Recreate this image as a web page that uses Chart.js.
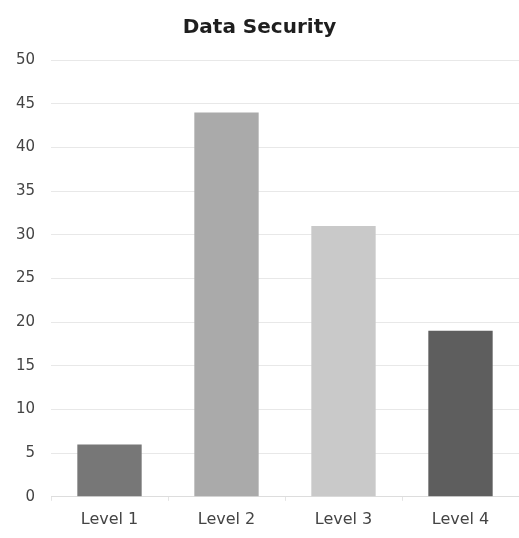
<!DOCTYPE html>
<html>
<head>
<meta charset="utf-8">
<script src="https://cdn.jsdelivr.net/npm/chart.js@4"></script>
<style>
    body { margin: 0; background: #fff; }
    #wrap { width: 519px; height: 538px; }
</style>
</head>
<body>
<div id="wrap"><canvas id="chart" width="519" height="538"></canvas></div>
<script>
let levels = ['Level 1', 'Level 2', 'Level 3', 'Level 4']
let securityValues = [6, 44, 31, 19]
let barColours = ['#777777', '#aaaaaa', '#c9c9c9', '#5e5e5e']

let font = "'DejaVu Sans', sans-serif"

const config = {
    type: 'bar',
    data: {
        labels: levels,
        datasets: [{
            data: securityValues,
            backgroundColor: barColours,
            borderWidth: 0,
            categoryPercentage: 0.55,
            barPercentage: 1
        }]
    },
    options: {
        responsive: false,
        animation: false,
        layout: { padding: { top: 16, right: 0, bottom: 0, left: 0 } },
        plugins: {
            legend: { display: false },
            tooltip: { enabled: false },
            title: {
                display: true,
                text: 'Data Security',
                color: '#1e1e1e',
                font: { family: font, size: 20, weight: 'bold' },
                padding: { top: 0, bottom: 20 }
            }
        },
        scales: {
            x: {
                grid: { display: true, drawOnChartArea: false, color: '#e4e4e4', tickLength: 4 },
                border: { color: '#dddddd' },
                ticks: { color: '#444', font: { family: font, size: 16 }, padding: 9 }
            },
            y: {
                min: 0,
                max: 50,
                afterFit: (scale) => { scale.width = 51 },
                grid: { color: '#e8e8e8', tickLength: 0 },
                border: { display: false },
                ticks: { stepSize: 5, color: '#444', font: { family: font, size: 15 }, padding: 16 }
            }
        }
    }
}

new Chart(document.getElementById('chart'), config)
</script>
</body>
</html>
